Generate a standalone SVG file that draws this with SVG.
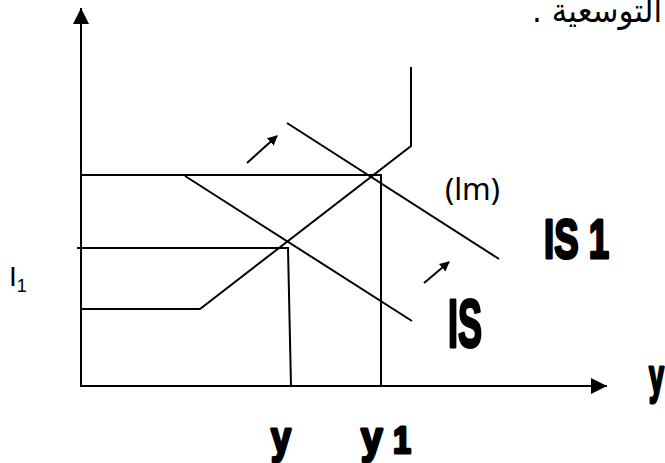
<svg xmlns="http://www.w3.org/2000/svg" width="665" height="463" viewBox="0 0 665 463">
<defs>
<style>
.ln{stroke:#000;stroke-width:2;fill:none;stroke-linecap:butt}
.bold{font-family:"Liberation Sans","DejaVu Sans",sans-serif;font-weight:bold;fill:#000;stroke:#000;stroke-width:3;stroke-linejoin:round}
.reg{font-family:"Noto Sans","DejaVu Sans",sans-serif;fill:#000}
</style>
<marker id="ah" viewBox="0 0 10 10" refX="9" refY="5" markerWidth="5" markerHeight="5" orient="auto" markerUnits="strokeWidth"><path d="M0,0 L10,5 L0,10 z" fill="#000"/></marker>
<marker id="big" viewBox="0 0 16 16" refX="16" refY="8" markerWidth="16" markerHeight="16" orient="auto" markerUnits="userSpaceOnUse"><path d="M0,0 L16,8 L0,16 z" fill="#000"/></marker>
</defs>
<rect width="665" height="463" fill="#fff"/>
<g id="axes">
<line class="ln" x1="81" y1="387" x2="81" y2="8" marker-end="url(#big)"/>
<line class="ln" x1="80" y1="386" x2="607" y2="386" marker-end="url(#big)"/>
</g>
<g id="connectors">
<polyline class="ln" points="80,175 381,175 381,386"/>
<polyline class="ln" points="77,248 288,248 291,386"/>
<polyline id="lm" class="ln" points="80,309 200,309 411,146 411,67"/>
<line id="is" class="ln" x1="185" y1="176" x2="412" y2="321"/>
<line id="is1" class="ln" x1="287" y1="123" x2="499" y2="259"/>
<line class="ln" x1="247" y1="163" x2="277" y2="136" marker-end="url(#ah)"/>
<line class="ln" x1="424" y1="283" x2="449" y2="262" marker-end="url(#ah)"/>
</g>
<g id="labels">
<text x="662" y="22" font-size="33" direction="rtl" font-family="DejaVu Sans, sans-serif" textLength="130" lengthAdjust="spacingAndGlyphs">التوسعية .</text>
<text class="reg" x="445" y="200" font-size="30" textLength="55" lengthAdjust="spacingAndGlyphs">(lm)</text>
<text x="9" y="286" font-size="28" font-family="Liberation Sans, sans-serif">I<tspan font-size="18" dy="6">1</tspan></text>
<text class="bold" x="544" y="258" font-size="56" textLength="65" lengthAdjust="spacingAndGlyphs">IS 1</text>
<text class="bold" x="448" y="347" font-size="69" textLength="34" lengthAdjust="spacingAndGlyphs">IS</text>
<text class="bold" x="271" y="453" font-size="44" textLength="20" lengthAdjust="spacingAndGlyphs">y</text>
<text class="bold" x="361" y="453" font-size="44" textLength="50" lengthAdjust="spacingAndGlyphs">y <tspan font-size="36">1</tspan></text>
<text class="bold" x="649" y="393" font-size="48" textLength="15" lengthAdjust="spacingAndGlyphs">y</text>
</g>
</svg>
